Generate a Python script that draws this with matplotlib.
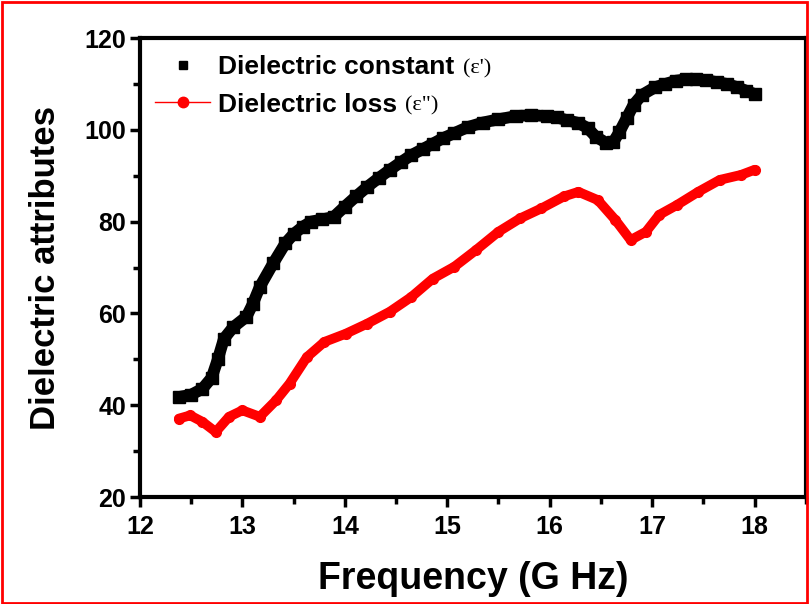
import matplotlib
matplotlib.use("Agg")
import matplotlib.pyplot as plt
from matplotlib.patches import Rectangle
from matplotlib.lines import Line2D

freq_const = [12.38, 12.5, 12.61, 12.7, 12.76, 12.82, 12.91, 13.04, 13.1, 13.17, 13.3, 13.42,
              13.5, 13.59, 13.67, 13.78, 13.89, 14.0, 14.11, 14.22, 14.33, 14.44, 14.55, 14.65,
              14.76, 14.86, 14.96, 15.07, 15.2, 15.35, 15.5, 15.67, 15.82, 15.97, 16.07, 16.17,
              16.28, 16.37, 16.45, 16.55, 16.62, 16.68, 16.75, 16.82, 16.9, 17.03, 17.13, 17.23,
              17.33, 17.43, 17.53, 17.63, 17.73, 17.83, 17.92, 18.0]
eps_const = [41.8, 42.3, 43.6, 46, 50, 54.5, 57, 59.3, 62, 65.8, 70.9, 75.3,
             77.3, 78.9, 80, 80.5, 81, 83.3, 85.5, 87.6, 89.5, 91.3, 93, 94.5,
             95.8, 97, 98.2, 99.3, 100.6, 101.6, 102.3, 103, 103.2, 103.0, 102.7, 102.1,
             101.5, 100.4, 98.5, 97.2, 97.3, 99.5, 102.5, 105.5, 107.6, 109.3, 110, 110.7,
             111, 111, 110.8, 110.4, 110, 109.3, 108.5, 107.8]

freq_loss = [12.38, 12.49, 12.61, 12.74, 12.87, 13.0, 13.17, 13.33, 13.46, 13.63, 13.8, 14.01,
             14.22, 14.44, 14.65, 14.86, 15.07, 15.28, 15.5, 15.71, 15.92, 16.14, 16.28, 16.47,
             16.64, 16.79, 16.94, 17.07, 17.24, 17.45, 17.66, 17.87, 18.0]
eps_loss = [37.1, 37.8, 36.4, 34.2, 37.5, 38.9, 37.5, 41.1, 44.7, 50.5, 53.8, 55.6,
            57.8, 60.4, 63.6, 67.6, 70.2, 73.8, 77.8, 80.7, 82.9, 85.5, 86.5, 84.7,
            80.4, 76.0, 77.8, 81.5, 83.6, 86.5, 89.1, 90.2, 91.3]

xticks = [12, 13, 14, 15, 16, 17, 18]
yticks = [20, 40, 60, 80, 100, 120]
labels = ["Dielectric constant", "Dielectric loss"]
suffixes = ["(\u03b5')", "(\u03b5\")"]

fig = plt.figure(figsize=(8.09, 6.04), dpi=100)
ax = fig.add_axes([0.173, 0.177, 0.823, 0.76])

ax.plot(freq_const, eps_const, color="black", lw=8.5, marker="s", ms=8,
        solid_capstyle="butt", zorder=3)
ax.plot(freq_loss, eps_loss, color="#ff0000", lw=7, marker="o", ms=7,
        solid_capstyle="round", zorder=3)

ax.set_xlim(12, 18.5)
ax.set_ylim(20, 120)
ax.set_xticks(xticks)
ax.set_yticks(yticks)
ax.set_xticks([12.5 + i for i in range(7)], minor=True)
ax.set_yticks([30, 50, 70, 90, 110], minor=True)
for s in ax.spines.values():
    s.set_linewidth(3)
ax.tick_params(which="major", direction="out", length=7, width=2.5,
               labelsize=18, pad=3)
ax.tick_params(axis="x", which="major", pad=6)
ax.tick_params(which="minor", direction="out", length=5, width=2.5)
for lab in ax.get_xticklabels() + ax.get_yticklabels():
    lab.set_fontfamily("Liberation Sans")
    lab.set_fontweight("bold")

ax.set_xlabel("Frequency (G Hz)", fontsize=27, fontweight="bold",
              fontfamily="Liberation Sans", labelpad=16)
ax.set_ylabel("Dielectric attributes", fontsize=25, fontweight="bold",
              fontfamily="Liberation Sans", labelpad=16)

handles = [Line2D([], [], color="black", marker="s", ls="none", ms=5.5),
           Line2D([], [], color="#ff0000", marker="o", ms=7.5, lw=1.0)]
leg = ax.legend(handles, labels,
                loc="upper left", bbox_to_anchor=(0.0225, 0.962), frameon=False,
                borderpad=0, borderaxespad=0,
                prop={"family": "Liberation Sans", "weight": "bold", "size": 19},
                handlelength=2.1, handletextpad=0.3, labelspacing=0.5)

fig.canvas.draw()
r = fig.canvas.get_renderer()
for t, suf in zip(leg.get_texts(), suffixes):
    bb = t.get_window_extent(r)
    fig.text((bb.x1 + 8) / fig.bbox.width, (bb.y0 + 1) / fig.bbox.height, suf,
             fontsize=16, fontfamily="Liberation Serif", va="bottom", ha="left")

fig.patches.append(Rectangle((0.002, 0.002), 0.996, 0.995, transform=fig.transFigure,
                             fill=False, edgecolor="#ff0000", lw=2))

fig.savefig("out.png", dpi=100)
